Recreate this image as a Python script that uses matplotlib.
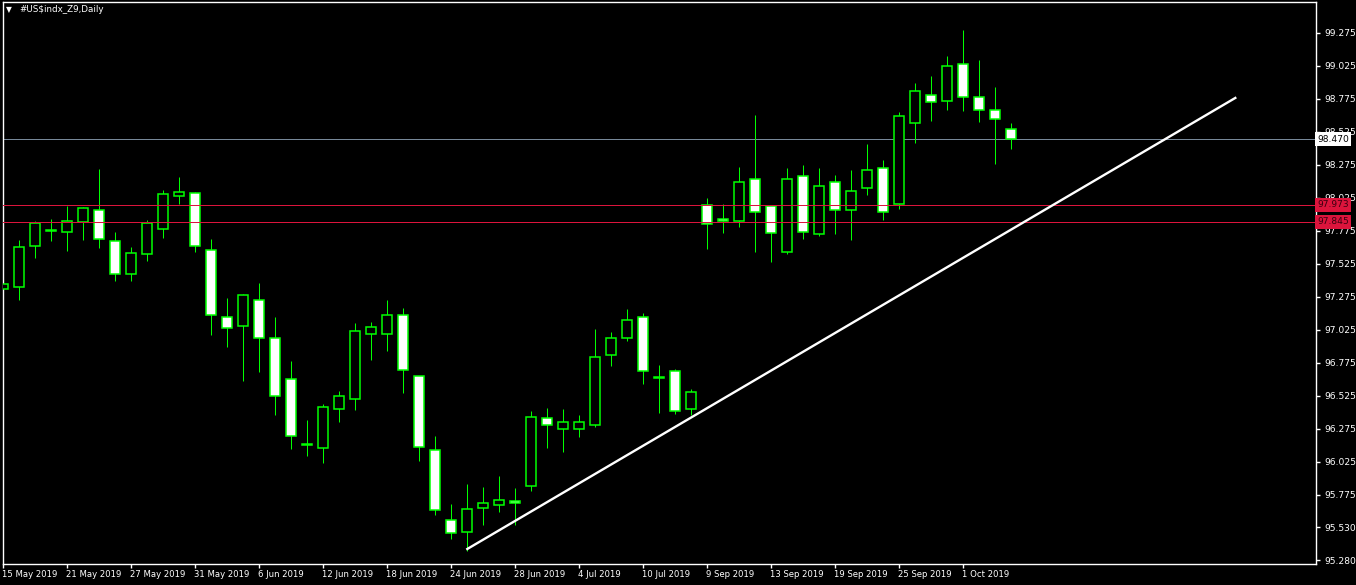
import numpy as np
import matplotlib
matplotlib.use('Agg')
import matplotlib.pyplot as plt
from matplotlib.patches import Rectangle
import matplotlib.transforms as mtransforms

# daily candles, #US$indx_Z9
opens = [97.336, 97.351, 97.661, 97.786, 97.767, 97.843, 97.934, 97.699, 97.449, 97.601,
         97.790, 98.040, 98.063, 97.631, 97.123, 97.055, 97.252, 96.964, 96.654, 96.158,
         96.131, 96.426, 96.502, 96.995, 96.995, 97.139, 96.677, 96.116, 95.586, 95.495,
         95.677, 95.699, 95.727, 95.843, 96.358, 96.275, 96.275, 96.305, 96.836, 96.964,
         97.123, 96.669, 96.714, 96.426, 97.972, 97.864, 97.851, 98.169, 97.964, 97.616,
         98.192, 97.752, 98.146, 97.934, 98.101, 98.252, 97.980, 98.593, 98.805, 98.760,
         99.040, 98.790, 98.692, 98.548]
highs = [97.502, 97.707, 97.851, 97.866, 97.964, 97.957, 98.245, 97.767, 97.654, 97.858,
         98.086, 98.184, 98.070, 97.714, 97.267, 97.298, 97.381, 97.123, 96.790, 96.343,
         96.464, 96.563, 97.078, 97.086, 97.252, 97.192, 96.677, 96.222, 95.707, 95.858,
         95.836, 95.919, 95.828, 96.411, 96.434, 96.426, 96.381, 97.033, 97.010, 97.184,
         97.154, 96.760, 96.730, 96.578, 98.025, 97.980, 98.260, 98.654, 97.964, 98.252,
         98.275, 98.252, 98.199, 98.237, 98.434, 98.313, 98.677, 98.896, 98.949, 99.101,
         99.298, 99.070, 98.866, 98.593]
lows = [97.230, 97.252, 97.570, 97.699, 97.624, 97.707, 97.646, 97.396, 97.396, 97.548,
        97.722, 97.980, 97.616, 96.987, 96.896, 96.639, 96.707, 96.381, 96.123, 96.070,
        96.017, 96.328, 96.419, 96.798, 96.866, 96.548, 96.033, 95.624, 95.442, 95.351,
        95.548, 95.646, 95.548, 95.805, 96.131, 96.101, 96.214, 96.290, 96.752, 96.942,
        96.616, 96.396, 96.389, 96.381, 97.639, 97.760, 97.805, 97.616, 97.540, 97.601,
        97.714, 97.737, 97.752, 97.707, 98.048, 97.858, 97.942, 98.442, 98.608, 98.692,
        98.684, 98.601, 98.283, 98.396]
closes = [97.373, 97.654, 97.836, 97.775, 97.851, 97.949, 97.714, 97.449, 97.608, 97.836,
          98.055, 98.070, 97.661, 97.139, 97.040, 97.290, 96.964, 96.525, 96.222, 96.154,
          96.442, 96.525, 97.017, 97.048, 97.139, 96.722, 96.139, 95.661, 95.487, 95.669,
          95.714, 95.737, 95.712, 96.366, 96.305, 96.328, 96.328, 96.820, 96.964, 97.101,
          96.714, 96.665, 96.411, 96.555, 97.828, 97.848, 98.146, 97.919, 97.760, 98.169,
          97.767, 98.116, 97.934, 98.078, 98.237, 97.919, 98.646, 98.836, 98.752, 99.025,
          98.790, 98.692, 98.623, 98.470]

# date labels, one every 4 bars
date_labels = ['15 May 2019', '21 May 2019', '27 May 2019', '31 May 2019', '6 Jun 2019',
               '12 Jun 2019', '18 Jun 2019', '24 Jun 2019', '28 Jun 2019', '4 Jul 2019',
               '10 Jul 2019', '9 Sep 2019', '13 Sep 2019', '19 Sep 2019', '25 Sep 2019',
               '1 Oct 2019']

# price scale labels
price_ticks = [99.275, 99.025, 98.775, 98.525, 98.275, 98.025, 97.775, 97.525, 97.275,
               97.025, 96.775, 96.525, 96.275, 96.025, 95.775, 95.530, 95.280]

bid = 98.470
levels = [97.973, 97.845]

# trend line (bar index, price)
trend_x = [29, 77]
trend_y = [95.366, 98.783]

W, H = 1356, 585
fig = plt.figure(figsize=(W / 100, H / 100), dpi=100, facecolor='black')
ax = fig.add_axes([2.5 / W, (H - 563.5) / H, (1315.7 - 2.5) / W, (563.5 - 2) / H])
ax.set_facecolor('black')
for s in ax.spines.values():
    s.set_color('white')
    s.set_linewidth(1)

lime = '#00ff00'
bw = 0.625
for i in range(len(opens)):
    o, h, l, c = opens[i], highs[i], lows[i], closes[i]
    ax.plot([i, i], [l, h], color=lime, lw=0.72, zorder=2, solid_capstyle='butt',
            snap=True)
    bottom = min(o, c)
    height = max(abs(c - o), 0.002)
    fc = 'white' if c < o else 'black'
    ax.add_patch(Rectangle((i - bw / 2, bottom), bw, height, facecolor=fc,
                           edgecolor=lime, lw=1.1, zorder=3))

# horizontal lines
ax.axhline(bid, color='#778899', lw=0.72, zorder=1, snap=True)
for lv in levels:
    ax.axhline(lv, color='#dc143c', lw=0.72, zorder=4, snap=True)

ax.plot(trend_x, trend_y, color='white', lw=1.7, zorder=5)

ax.set_xlim(-0.05, 82.025)
ax.set_ylim(95.256, 99.5098)

# x axis
xt = list(range(0, 4 * len(date_labels), 4))
ax.set_xticks(xt)
ax.set_xticklabels(date_labels, ha='left')
ax.tick_params(axis='x', colors='white', direction='out', length=3, width=1,
               labelsize=6.1, pad=2)
offset = mtransforms.ScaledTranslation(-1.0 / 100, 0, fig.dpi_scale_trans)
for lab in ax.get_xticklabels():
    lab.set_transform(lab.get_transform() + offset)

# y axis on the right
ax.yaxis.tick_right()
ax.set_yticks(price_ticks)
ax.set_yticklabels(['%.3f' % p for p in price_ticks])
ax.tick_params(axis='y', colors='white', direction='out', length=3, width=1,
               labelsize=6.6, pad=3)

# boxed price labels
trans = mtransforms.blended_transform_factory(ax.transAxes, ax.transData)
ax.text(1.0012, bid, '%.3f' % bid, transform=trans, ha='left', va='center',
        fontsize=6.6, color='black', zorder=10, clip_on=False,
        bbox=dict(boxstyle='square,pad=0.25', fc='white', ec='none'))
for lv in levels:
    ax.text(1.0012, lv, '%.3f' % lv, transform=trans, ha='left', va='center',
            fontsize=6.6, color='#3a0010', zorder=10, clip_on=False,
            bbox=dict(boxstyle='square,pad=0.25', fc='#dc143c', ec='none'))

# title
fig.text(19 / W, 1 - 10 / H, r'#US\$indx_Z9,Daily', color='white', fontsize=6.3,
         ha='left', va='center')
fig.text(8.5 / W, 1 - 10 / H, u'\u25bc', color='white', fontsize=5.5, ha='center',
         va='center')

fig.savefig('out.png', dpi=100, facecolor='black')
